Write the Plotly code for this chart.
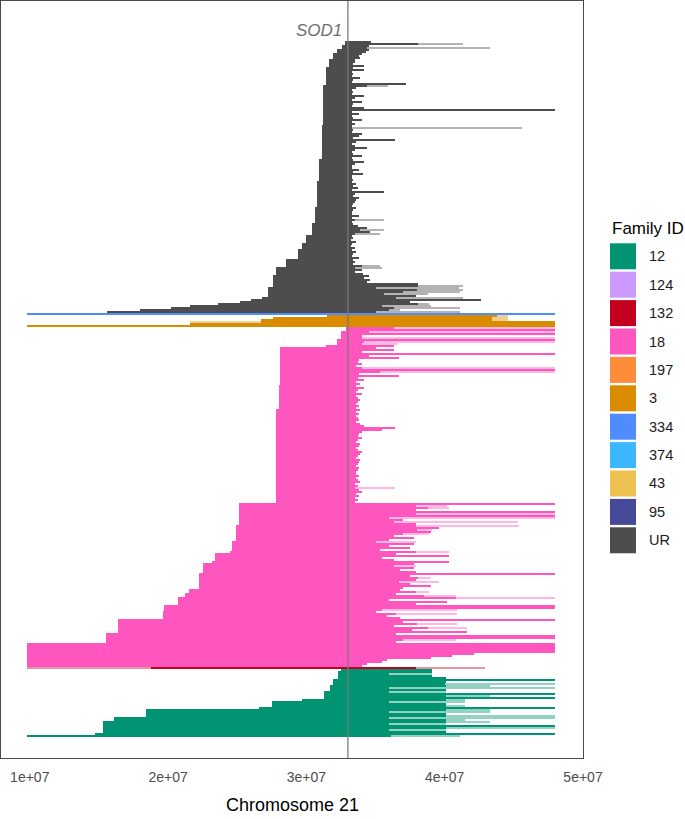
import plotly.graph_objects as go

# ---------------- data (positions in Mb on chromosome 21) ----------------
FAMILY_IDS = ["12", "124", "132", "18", "197", "3", "334", "374", "43", "95", "UR"]
FAMILY_COLORS = ["#009473", "#CC99FF", "#C4001F", "#FF55BF", "#FF8C3A", "#DA8C00",
                 "#4F8CFF", "#3DB7FF", "#EEC04F", "#454A99", "#4D4D4D"]

# families stacked from the bottom of the panel to the top
STACK_ORDER = ["12", "132", "18", "3", "334", "UR"]

SOD1_POS = 33.0
X_TICKS = [1e7, 2e7, 3e7, 4e7, 5e7]
X_TICK_TEXT = ["1e+07", "2e+07", "3e+07", "4e+07", "5e+07"]

# each family: rows listed top -> bottom
# start runs: (shared-haplotype start, number of consecutive rows)
UR_START_RUNS = [(32.8, 2), (32.6, 2), (32.2, 2), (31.9, 3), (31.6, 4), (31.4, 9), (31.2, 20),
                 (31.1, 17), (30.9, 11), (30.8, 13), (30.6, 8), (30.4, 6), (30.0, 4), (29.7, 3),
                 (29.4, 5), (28.5, 4), (27.8, 4), (27.6, 6), (27.2, 5), (26.8, 1), (26.0, 1),
                 (25.2, 1), (23.6, 1), (21.6, 1), (20.2, 1), (18.0, 1), (15.6, 1)]
UR_END = [34.7, 38.1, 34.5, 34.4, 34.5, 34.3, 34.0, 33.8, 33.9, 33.5,
          33.5, 33.4, 34.2, 33.4, 34.2, 33.3, 33.4, 33.3, 33.9, 33.4,
          33.3, 37.2, 34.4, 33.6, 33.3, 33.4, 33.3, 34.2, 33.5, 33.3,
          34.0, 33.4, 33.3, 34.2, 48.0, 33.3, 33.8, 33.3, 33.4, 34.0,
          33.3, 33.5, 33.3, 33.3, 33.4, 33.3, 34.0, 33.8, 33.4, 36.4,
          33.6, 33.3, 33.5, 34.4, 33.5, 33.3, 33.4, 34.0, 33.3, 33.4,
          34.2, 33.5, 33.3, 33.3, 33.8, 33.4, 34.1, 33.3, 33.3, 33.4,
          33.3, 33.6, 33.4, 33.7, 33.3, 35.6, 33.5, 33.4, 33.8, 33.6,
          33.5, 33.4, 33.3, 33.6, 33.4, 33.3, 33.3, 33.8, 33.3, 33.5,
          33.3, 33.4, 33.7, 34.4, 33.9, 34.6, 33.5, 33.3, 33.4, 33.2,
          33.6, 33.3, 33.2, 33.5, 33.3, 33.6, 33.4, 33.3, 33.8, 33.4,
          33.5, 33.4, 34.0, 33.5, 34.0, 33.5, 34.1, 34.5, 34.2, 34.6,
          34.4, 38.1, 38.1, 35.0, 38.0, 37.0, 35.6, 37.9, 36.5, 42.6,
          37.5, 38.1, 35.5, 36.3, 36.0, 35.0]
UR_RIGHT_EXT = [(1, 41.3), (3, 43.3), (22, 35.9), (43, 45.6), (89, 35.6), (94, 35.6), (96, 35.3),
                (112, 35.3), (113, 35.5), (122, 41.3), (123, 41.0), (124, 41.3), (125, 41.1),
                (126, 38.8), (128, 41.3), (131, 38.9), (132, 39.0), (133, 41.1), (134, 36.8),
                (135, 41.1)]
UR_LEFT_EXT = []

F334_START_RUNS = [(9.8, 1)]
F334_END = [48.0]
F334_RIGHT_EXT = []
F334_LEFT_EXT = []

F3_START_RUNS = [(31.5, 1), (27.6, 1), (26.7, 2), (21.6, 1), (9.8, 1)]
F3_END = [43.8, 43.4, 43.4, 48.0, 48.0, 48.0]
F3_RIGHT_EXT = [(0, 44.6), (1, 44.6), (2, 44.6)]
F3_LEFT_EXT = [(3, 21.6)]

F18_START_RUNS = [(32.9, 2), (32.5, 4), (32.2, 3), (31.4, 1), (28.1, 19), (28.0, 12), (27.8, 47),
                  (25.1, 11), (24.9, 8), (24.6, 5), (24.5, 1), (23.4, 4), (23.2, 1), (22.5, 5),
                  (22.2, 8), (21.5, 2), (21.2, 2), (20.7, 4), (19.7, 3), (19.6, 4), (16.4, 7),
                  (15.5, 5), (9.8, 12)]
F18_END = [36.3, 48.0, 34.5, 48.0, 34.0, 34.0, 48.0, 34.2, 34.0, 36.3,
           35.0, 36.3, 34.0, 48.0, 34.5, 36.7, 33.8, 33.7, 34.0, 33.6,
           34.0, 48.0, 35.3, 33.8, 36.7, 33.7, 34.2, 33.6, 33.9, 33.6,
           34.2, 33.7, 33.6, 34.0, 33.6, 33.7, 33.9, 33.7, 33.6, 33.8,
           33.6, 33.9, 33.6, 33.8, 33.6, 33.7, 33.8, 33.6, 33.9, 34.2,
           36.4, 35.5, 34.0, 33.8, 33.7, 34.0, 33.7, 33.6, 33.9, 33.8,
           33.6, 33.7, 34.0, 33.9, 33.7, 33.6, 33.9, 33.8, 33.7, 33.6,
           33.8, 33.7, 33.6, 33.6, 33.8, 33.6, 33.7, 33.9, 33.5, 33.7,
           33.5, 33.8, 34.0, 33.6, 33.8, 33.5, 33.7, 33.5, 48.0, 37.9,
           38.8, 37.9, 48.0, 37.9, 48.0, 36.0, 37.0, 36.3, 37.9, 37.9,
           39.6, 38.0, 39.0, 37.0, 36.3, 37.8, 36.0, 35.0, 37.8, 36.0,
           37.5, 35.3, 37.9, 36.5, 40.3, 35.5, 36.3, 40.3, 37.8, 36.3,
           37.8, 36.8, 37.9, 48.0, 37.5, 38.1, 37.9, 36.7, 37.5, 39.0,
           37.0, 36.8, 37.9, 36.5, 38.5, 40.8, 36.0, 40.2, 37.9, 48.0,
           48.0, 35.5, 35.0, 36.5, 35.8, 36.8, 48.0, 37.0, 38.0, 36.3,
           38.8, 37.6, 41.6, 36.5, 48.0, 48.0, 37.0, 36.5, 48.0, 48.0,
           48.0, 48.0, 48.0, 42.1, 40.5, 39.0, 35.8, 35.5, 34.4, 34.0]
F18_RIGHT_EXT = [(0, 48.0), (2, 48.0), (5, 48.0), (7, 48.0), (8, 36.6), (20, 48.0), (22, 48.0),
                 (80, 36.4), (89, 40.2), (90, 40.3), (93, 48.0), (95, 48.0), (97, 45.3),
                 (99, 45.4), (101, 39.1), (103, 38.9), (107, 37.9), (112, 40.3), (119, 37.9),
                 (125, 39.0), (127, 39.6), (132, 38.9), (134, 40.8), (135, 48.0), (141, 40.9),
                 (143, 40.9), (148, 40.9), (150, 41.6), (156, 40.8)]
F18_LEFT_EXT = []

F132_START_RUNS = [(18.8, 1)]
F132_END = [37.9]
F132_RIGHT_EXT = [(0, 42.9)]
F132_LEFT_EXT = [(0, 9.8)]

F12_START_RUNS = [(32.5, 1), (32.3, 4), (31.9, 3), (31.7, 3), (31.3, 4), (29.7, 1), (27.5, 3),
                  (26.6, 1), (18.4, 4), (16.1, 2), (15.3, 6), (14.7, 1), (9.8, 1)]
F12_END = [39.1, 39.1, 36.0, 39.1, 40.1, 48.0, 40.1, 40.0, 40.1, 36.0,
           40.1, 36.0, 48.0, 40.1, 48.0, 40.1, 36.0, 40.1, 40.1, 48.0,
           40.1, 36.0, 40.1, 40.1, 36.0, 40.1, 40.1, 36.0, 48.0, 40.1,
           36.0, 40.1, 48.0, 36.1]
F12_RIGHT_EXT = [(2, 39.1), (7, 48.0), (8, 43.3), (9, 48.0), (11, 40.1), (13, 43.3), (15, 41.5),
                 (16, 41.5), (18, 41.5), (20, 43.3), (21, 43.3), (23, 48.0), (24, 48.0),
                 (25, 41.5), (26, 43.3), (27, 40.1), (29, 48.0), (30, 40.1), (33, 41.1)]
F12_LEFT_EXT = []

SEGMENTS = {
    "UR": (UR_START_RUNS, UR_END, UR_RIGHT_EXT, UR_LEFT_EXT),
    "334": (F334_START_RUNS, F334_END, F334_RIGHT_EXT, F334_LEFT_EXT),
    "3": (F3_START_RUNS, F3_END, F3_RIGHT_EXT, F3_LEFT_EXT),
    "18": (F18_START_RUNS, F18_END, F18_RIGHT_EXT, F18_LEFT_EXT),
    "132": (F132_START_RUNS, F132_END, F132_RIGHT_EXT, F132_LEFT_EXT),
    "12": (F12_START_RUNS, F12_END, F12_RIGHT_EXT, F12_LEFT_EXT),
}

# ---------------- figure ----------------
COLOR = dict(zip(FAMILY_IDS, FAMILY_COLORS))
MB = 1e6
FONT = "Liberation Sans, Arial, Helvetica, sans-serif"

fig = go.Figure()
row_base = 0
for fam in STACK_ORDER:
    runs, ends, rext, lext = SEGMENTS[fam]
    starts = []
    for val, n in runs:
        starts.extend([val] * n)
    n = len(ends)
    rows = [row_base + (n - 1 - k) for k in range(n)]
    col = COLOR[fam]
    # light (uncertain) extensions
    for pairs, side in ((rext, "r"), (lext, "l")):
        if not pairs:
            continue
        ys, xs, bs = [], [], []
        for k, v in pairs:
            ys.append(rows[k])
            if side == "r":
                bs.append(ends[k] * MB)
                xs.append((v - ends[k]) * MB)
            else:
                bs.append(v * MB)
                xs.append((starts[k] - v) * MB)
        fig.add_trace(go.Bar(y=ys, x=xs, base=bs, orientation="h", width=0.75,
                             marker=dict(color=col, line=dict(width=0)), opacity=0.42,
                             showlegend=False, hoverinfo="skip"))
    fig.add_trace(go.Bar(y=rows, x=[(e - s) * MB for s, e in zip(starts, ends)],
                         base=[s * MB for s in starts], orientation="h", width=1.0,
                         marker=dict(color=col, line=dict(width=0)),
                         showlegend=False, name=fam, hoverinfo="skip"))
    row_base += n

n_rows = row_base

# plot area geometry (pixels)
W, H = 685, 819
ML, MR, MT, MB_ = 1, 102, 1, 61
PW = W - ML - MR
PH = H - MT - MB_


def px_x(px):
    return (px - ML) / PW


def px_y(py):
    return (H - MB_ - py) / PH


# y range: 2 px per row, rows from bottom
top_val = n_rows - 1 + (42 - MT) / 2.0
bot_val = top_val - PH / 2.0

shapes = [dict(type="line", xref="x", yref="paper", x0=SOD1_POS * MB, x1=SOD1_POS * MB,
               y0=0, y1=1, line=dict(color="rgba(120,120,120,0.8)", width=1.6), layer="above")]
annotations = [
    dict(x=SOD1_POS * MB, xref="x", y=px_y(30), yref="paper", text="<i>SOD1</i>",
         showarrow=False, xanchor="right", yanchor="middle", xshift=-4,
         font=dict(family=FONT, size=17, color="#707070")),
    dict(x=px_x(292), xref="paper", y=px_y(805), yref="paper", text="Chromosome 21",
         showarrow=False, xanchor="center", yanchor="middle",
         font=dict(family=FONT, size=18, color="#000000")),
    dict(x=px_x(610), xref="paper", y=px_y(228), yref="paper", text="Family ID",
         showarrow=False, xanchor="left", yanchor="middle",
         font=dict(family=FONT, size=17, color="#000000")),
]
for i, (fid, col) in enumerate(zip(FAMILY_IDS, FAMILY_COLORS)):
    cy = 256.3 + 28.4 * i
    shapes.append(dict(type="rect", xref="paper", yref="paper",
                       x0=px_x(610), x1=px_x(636), y0=px_y(cy + 13), y1=px_y(cy - 13),
                       fillcolor=col, line=dict(width=0), layer="above"))
    annotations.append(dict(x=px_x(647), xref="paper", y=px_y(cy), yref="paper", text=fid,
                            showarrow=False, xanchor="left", yanchor="middle",
                            font=dict(family=FONT, size=14.5, color="#1a1a1a")))

fig.update_layout(
    width=W, height=H,
    margin=dict(l=ML, r=MR, t=MT, b=MB_),
    paper_bgcolor="white", plot_bgcolor="white",
    barmode="overlay", bargap=0,
    showlegend=False,
    shapes=shapes, annotations=annotations,
    font=dict(family=FONT),
    xaxis=dict(range=[7.92e6, 5.0e7], tickvals=X_TICKS, ticktext=X_TICK_TEXT,
               showgrid=False, zeroline=False, showline=True, mirror=True,
               linecolor="#4a4a4a", linewidth=1, ticks="outside", ticklen=6,
               tickcolor="rgba(0,0,0,0)", tickfont=dict(family=FONT, size=14, color="#4D4D4D")),
    yaxis=dict(range=[bot_val, top_val], showgrid=False, zeroline=False, showline=True,
               mirror=True, linecolor="#4a4a4a", linewidth=1, showticklabels=False, ticks=""),
)

fig.write_html("out.html", config={"displayModeBar": False},
               post_script="document.body.style.margin='0px';document.body.style.padding='0px';"
                           "document.body.style.overflow='hidden';")
